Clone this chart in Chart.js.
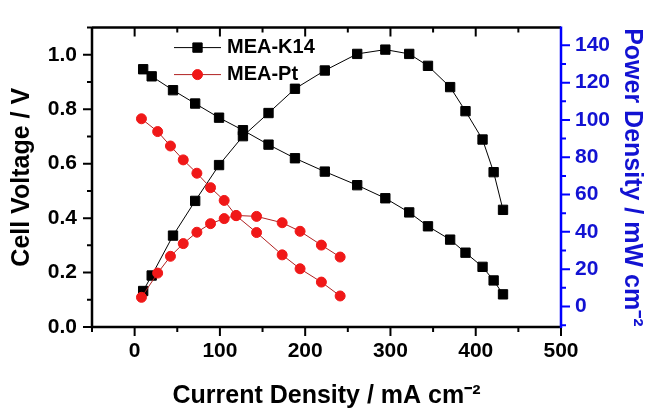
<!DOCTYPE html>
<html lang="en">
<head>
<meta charset="UTF-8">
<title>Polarization curves</title>
<script src="https://cdn.jsdelivr.net/npm/chart.js"></script>
<style>
  html, body { margin: 0; padding: 0; background: #fff; }
  #wrap { width: 646px; height: 409px; }
</style>
</head>
<body>
<div id="wrap"><canvas id="grafico" width="646" height="409"></canvas></div>
<script>
// values
const k14Current = [10, 20, 45, 71, 99, 127, 157, 188, 223, 261, 294, 322, 344, 370, 388, 408, 421, 432];
const k14Voltage = [0.947, 0.921, 0.870, 0.821, 0.769, 0.723, 0.670, 0.620, 0.571, 0.521, 0.473, 0.421, 0.370, 0.321, 0.273, 0.221, 0.171, 0.120];
const k14Power   = [8.3, 16.6, 38.0, 56.6, 75.8, 91.3, 103.7, 116.7, 126.5, 135.4, 137.7, 135.4, 129.0, 117.6, 104.7, 89.5, 72.0, 51.8];

const ptCurrent = [8, 27, 42, 57, 73, 89, 105, 119, 143, 173, 194, 219, 241];
const ptVoltage = [0.765, 0.718, 0.665, 0.614, 0.565, 0.512, 0.465, 0.409, 0.347, 0.265, 0.214, 0.165, 0.114];
const ptPower   = [4.9, 17.9, 26.9, 33.7, 39.8, 44.4, 47.1, 48.8, 48.3, 44.9, 40.3, 32.9, 26.5];

const xTicks = [0, 100, 200, 300, 400, 500];
const voltTicks = [0.0, 0.2, 0.4, 0.6, 0.8, 1.0];
const powerTicks = [0, 20, 40, 60, 80, 100, 120, 140];

const FONT = 'Arial, "Liberation Sans", sans-serif';
const BLUE = '#0000ff';
const BLUE_TEXT = '#1212d2';
const RED = '#f01818';

function pares(xs, ys) {
  return xs.map((x, i) => ({ x: x, y: ys[i] }));
}

function fixaTicks(valores) {
  return function (scale) {
    scale.ticks = valores.map(v => ({ value: v }));
  };
}

// tick marks: major at the labels, minor halfway between
function marcas(ctx, scale, valores, onde, cor, topo) {
  const passo = valores[1] - valores[0];
  const todos = [];
  valores.forEach(v => todos.push([v, 9]));
  for (let i = 0; i < valores.length - 1; i++) todos.push([valores[i] + passo / 2, 5]);
  [valores[0] - passo / 2, valores[valores.length - 1] + passo / 2].forEach(v => {
    if (v >= scale.min && v <= scale.max) todos.push([v, 5]);
  });
  ctx.strokeStyle = cor;
  ctx.lineWidth = 2;
  ctx.beginPath();
  todos.forEach(([v, len]) => {
    const p = scale.getPixelForValue(v);
    if (onde === 'bottom') { ctx.moveTo(p, scale.top); ctx.lineTo(p, scale.top + len); }
    else if (onde === 'top') { ctx.moveTo(p, topo); ctx.lineTo(p, topo + len); }
    else if (onde === 'left') { ctx.moveTo(scale.right, p); ctx.lineTo(scale.right - len, p); }
    else if (onde === 'right') { ctx.moveTo(scale.left, p); ctx.lineTo(scale.left + len, p); }
  });
  ctx.stroke();
}

const moldura = {
  id: 'moldura',
  afterDraw(chart) {
    const { ctx, chartArea: a, scales } = chart;
    ctx.save();
    marcas(ctx, scales.x, xTicks, 'bottom', '#000');
    marcas(ctx, scales.x, xTicks, 'top', '#000', a.top);
    marcas(ctx, scales.y, voltTicks, 'left', '#000');
    marcas(ctx, scales.y1, powerTicks, 'right', BLUE);

    ctx.lineWidth = 2.5;
    ctx.strokeStyle = '#000';
    ctx.beginPath();
    ctx.moveTo(a.left, a.top);
    ctx.lineTo(a.right, a.top);
    ctx.moveTo(a.left, a.top);
    ctx.lineTo(a.left, a.bottom);
    ctx.lineTo(a.right, a.bottom);
    ctx.stroke();
    ctx.strokeStyle = BLUE;
    ctx.beginPath();
    ctx.moveTo(a.right, a.top - 1);
    ctx.lineTo(a.right, a.bottom + 1);
    ctx.stroke();
    ctx.restore();
  }
};

const legenda = {
  id: 'legenda',
  afterDraw(chart) {
    const ctx = chart.ctx;
    const a = chart.chartArea;
    const itens = [chart.data.datasets[0], chart.data.datasets[2]];
    itens.forEach((ds, i) => {
      const y = a.top + 20 + i * 27;
      ctx.save();
      ctx.strokeStyle = ds.borderColor;
      ctx.lineWidth = 1;
      ctx.beginPath();
      ctx.moveTo(a.left + 82, y);
      ctx.lineTo(a.left + 129, y);
      ctx.stroke();
      ctx.fillStyle = ds.pointBackgroundColor;
      ctx.strokeStyle = ds.pointBorderColor;
      Chart.helpers.drawPoint(ctx, { pointStyle: ds.pointStyle, radius: ds.pointRadius, borderWidth: 1, rotation: 0 }, a.left + 105.5, y);
      ctx.fillStyle = '#000';
      ctx.font = 'bold 20px ' + FONT;
      ctx.textBaseline = 'middle';
      ctx.textAlign = 'left';
      ctx.fillText(ds.label, a.left + 135, y);
      ctx.restore();
    });
  }
};

const k14Style = {
  borderColor: '#000', borderWidth: 1,
  pointStyle: 'rect', pointRadius: 6.6,
  pointBackgroundColor: '#000', pointBorderColor: '#000', pointBorderWidth: 1,
  showLine: true, order: 2
};
const ptStyle = {
  borderColor: '#b02020', borderWidth: 1,
  pointStyle: 'circle', pointRadius: 5,
  pointBackgroundColor: RED, pointBorderColor: RED, pointBorderWidth: 1,
  showLine: true, order: 1
};

const tickFont = { family: FONT, size: 21, weight: 'bold' };
const titleFont = { family: FONT, size: 25, weight: 'bold', lineHeight: 1 };

new Chart(document.getElementById('grafico'), {
  type: 'scatter',
  data: {
    datasets: [
      Object.assign({ label: 'MEA-K14', data: pares(k14Current, k14Voltage), yAxisID: 'y' }, k14Style),
      Object.assign({ label: 'MEA-K14', data: pares(k14Current, k14Power), yAxisID: 'y1' }, k14Style),
      Object.assign({ label: 'MEA-Pt', data: pares(ptCurrent, ptVoltage), yAxisID: 'y' }, ptStyle),
      Object.assign({ label: 'MEA-Pt', data: pares(ptCurrent, ptPower), yAxisID: 'y1' }, ptStyle)
    ]
  },
  options: {
    responsive: false,
    animation: false,
    devicePixelRatio: 1,
    layout: { padding: { top: 15, left: 0, right: 0, bottom: 0 } },
    plugins: { legend: { display: false }, tooltip: { enabled: false } },
    scales: {
      x: {
        type: 'linear', min: -50, max: 500,
        afterBuildTicks: fixaTicks(xTicks),
        afterFit: s => { s.height = 82; },
        grid: { display: false, drawTicks: false },
        border: { display: false },
        ticks: { color: '#000', font: tickFont, padding: 11.5, autoSkip: false, maxRotation: 0 },
        title: { display: true, text: 'Current Density / mA cm⁻²', color: '#000', font: titleFont, padding: { top: 0, bottom: 0 } }
      },
      y: {
        type: 'linear', position: 'left', min: 0, max: 1.1,
        afterBuildTicks: fixaTicks(voltTicks),
        afterFit: s => { s.width = 92; },
        grid: { display: false, drawTicks: false },
        border: { display: false },
        ticks: { color: '#000', font: tickFont, padding: 15, autoSkip: false, callback: v => v.toFixed(1) },
        title: { display: true, text: 'Cell Voltage / V', color: '#000', font: titleFont, padding: { top: 10, bottom: 0 } }
      },
      y1: {
        type: 'linear', position: 'right', min: -11, max: 149.5,
        afterBuildTicks: fixaTicks(powerTicks),
        afterFit: s => { s.width = 85; },
        grid: { display: false, drawTicks: false },
        border: { display: false },
        ticks: { color: BLUE_TEXT, font: tickFont, padding: 14, autoSkip: false },
        title: { display: true, text: 'Power Density / mW cm⁻²', color: BLUE_TEXT, font: titleFont, padding: { top: 1.5, bottom: 0 } }
      }
    }
  },
  plugins: [moldura, legenda]
});
</script>
</body>
</html>
